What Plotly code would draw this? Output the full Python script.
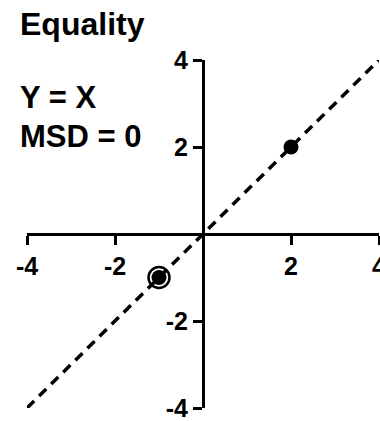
import plotly.graph_objects as go

# Identity line and the observed points
line_x = [-4, 4]
line_y = [-4, 4]
point_x = [2, -1]
point_y = [2, -1]
ring_x = [-1]
ring_y = [-1]
tick_vals = [-4, -2, 2, 4]
tick_text = ["-4", "-2", "2", "4"]

title_text = "Equality"
eq_text = "Y = X"
msd_text = "MSD = 0"

FONT = "Liberation Sans, Arial, Helvetica, sans-serif"

fig = go.Figure()

fig.add_trace(go.Scatter(
    x=line_x, y=line_y, mode="lines",
    line=dict(color="black", width=3.5, dash="10px,7px"),
    hoverinfo="skip", cliponaxis=False,
))
fig.add_trace(go.Scatter(
    x=ring_x, y=ring_y, mode="markers",
    marker=dict(symbol="circle-open", size=21, color="black",
                line=dict(width=2.5, color="black")),
    cliponaxis=False,
))
fig.add_trace(go.Scatter(
    x=point_x, y=point_y, mode="markers",
    marker=dict(symbol="circle", size=15, color="black"),
    cliponaxis=False,
))

axis_common = dict(
    range=[-4, 4],
    showgrid=False, zeroline=False,
    showline=True, linecolor="black", linewidth=3,
    ticks="outside", ticklen=9, tickwidth=3, tickcolor="black",
    tickvals=tick_vals, ticktext=tick_text,
    tickfont=dict(family=FONT, size=25, color="black", weight="bold"),
    ticklabeloverflow="allow",
    anchor="free", position=0.5, automargin=False,
    fixedrange=True,
)

fig.update_layout(
    width=380, height=421,
    margin=dict(l=27, r=1, t=60, b=13),
    paper_bgcolor="white", plot_bgcolor="white",
    showlegend=False,
    xaxis=dict(**axis_common),
    yaxis=dict(**axis_common),
    annotations=[
        dict(text=title_text, xref="paper", yref="paper", x=-0.025, y=1.103,
             xanchor="left", yanchor="middle", showarrow=False,
             font=dict(family=FONT, size=32, color="black", weight="bold")),
        dict(text=eq_text, xref="paper", yref="paper", x=-0.025, y=0.891,
             xanchor="left", yanchor="middle", showarrow=False,
             font=dict(family=FONT, size=31, color="black", weight="bold")),
        dict(text=msd_text, xref="paper", yref="paper", x=-0.025, y=0.780,
             xanchor="left", yanchor="middle", showarrow=False,
             font=dict(family=FONT, size=31, color="black", weight="bold")),
    ],
)

fig.write_html("out.html")
